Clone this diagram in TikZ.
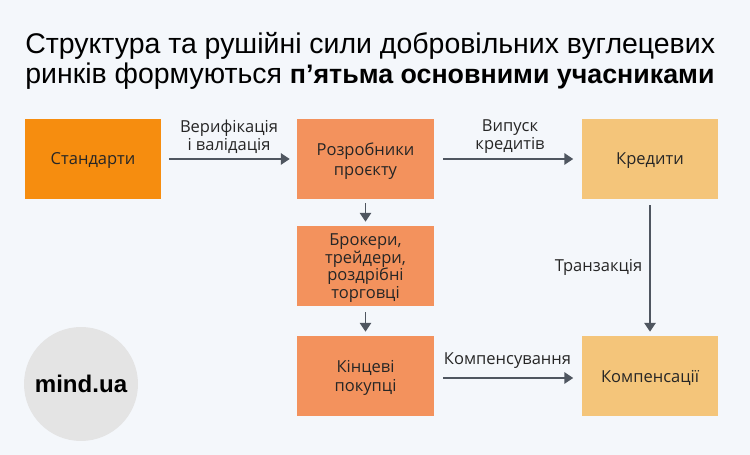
\documentclass[tikz,border=0pt]{standalone}
\usepackage{fontspec}
\setmainfont{Open Sans}
\newfontfamily\titlefont{Liberation Sans}
\definecolor{pagebg}{HTML}{F4F7FB}
\definecolor{stdorange}{HTML}{F68D0F}
\definecolor{devorange}{HTML}{F3925D}
\definecolor{credityellow}{HTML}{F4C57A}
\definecolor{arrowgray}{HTML}{4F5660}
\definecolor{logogray}{HTML}{E4E4E4}
\usetikzlibrary{arrows.meta}
\tikzset{
    box/.style={minimum width=2.74cm, minimum height=1.6cm, align=center, inner sep=0pt, text depth=0pt, text=black!85, font=\fontsize{9.4}{11.2}\selectfont},
    conn/.style={-{Triangle[length=5pt,width=6.5pt]}, line width=0.9pt, arrowgray},
    lab/.style={align=center, inner sep=0pt, text=black!85, font=\fontsize{9.4}{10.2}\selectfont}
}
\begin{document}
\begin{tikzpicture}[x=0.02cm,y=-0.02cm]
    \fill[pagebg] (0,0) rectangle (750,455);
    \useasboundingbox (0,0) rectangle (750,455);
    \node[anchor=north west, inner sep=0pt, align=left, font=\titlefont\fontsize{16.2}{17.3}\selectfont] (title) at (25,32)
        {Структура та рушійні сили добровільних вуглецевих\\ринків формуються {\fontsize{15.25}{17.3}\selectfont\bfseries п’ятьма основними учасниками}};

    \node[box, fill=stdorange] (standards) at (93,159) {Стандарти};
    \node[box, fill=devorange] (developers) at (365.5,159) {Розробники\\проєкту};
    \node[box, fill=credityellow] (credits) at (650,159) {Кредити};
    \node[box, fill=devorange, font=\fontsize{9.4}{10}\selectfont] (brokers) at (365.5,266) {Брокери,\\трейдери,\\роздрібні\\торговці};
    \node[box, fill=devorange] (buyers) at (365.5,376) {Кінцеві\\покупці};
    \node[box, fill=credityellow] (offsets) at (650,376) {Компенсації};

    \draw[conn, shorten <=0.14cm, shorten >=0.14cm] (standards) -- (developers);
    \draw[conn, shorten <=0.18cm, shorten >=0.16cm] (developers) -- (credits);
    \draw[conn, shorten <=0.08cm, shorten >=0.08cm] (developers) -- (brokers);
    \draw[conn, shorten <=0.12cm, shorten >=0.08cm] (brokers) -- (buyers);
    \draw[conn, shorten <=0.12cm, shorten >=0.08cm] (credits) -- (offsets);
    \draw[conn, shorten <=0.18cm, shorten >=0.16cm] ([yshift=-0.04cm]buyers.east) -- ([yshift=-0.04cm]offsets.west);

    \node[lab] (verif) at (229,137) {Верифікація\\і валідація};
    \node[lab] (issue) at (510,137) {Випуск\\кредитів};
    \node[lab] (trans) at (598.5,267) {Транзакція};
    \node[lab] (comp) at (507.5,361) {Компенсування};

    \node[circle, fill=logogray, minimum size=2.28cm, inner sep=0pt, font=\titlefont\bfseries\fontsize{13.7}{15}\selectfont] (logo) at (81,384) {mind.ua};
\end{tikzpicture}
\end{document}
